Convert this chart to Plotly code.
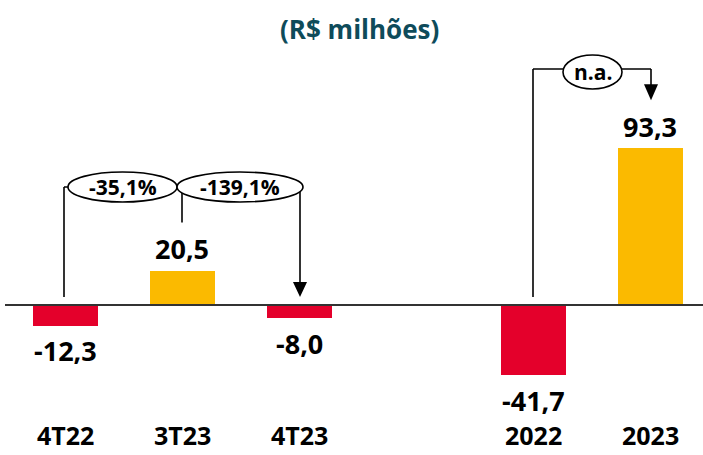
import plotly.graph_objects as go

# ---- data ----
categories = ["4T22", "3T23", "4T23", "2022", "2023"]
slots = [0, 1, 2, 4, 5]          # slot 3 is an empty gap
values = [-12.3, 20.5, -8.0, -41.7, 93.3]
value_labels = ["-12,3", "20,5", "-8,0", "-41,7", "93,3"]
change_labels = ["-35,1%", "-139,1%", "n.a."]
title_text = "(R$ milhões)"

RED = "#E4002B"
YELLOW = "#FBBA00"
colors = [RED if v < 0 else YELLOW for v in values]

# ---- layout geometry ----
W, H = 703, 455
PX_PER_UNIT = 1.68
ZERO_PX = 305
SLOT_PX = 117
FIRST_PX = 65
FONT = "Open Sans, Lato, sans-serif"


def dx(px):
    return px / SLOT_PX


def dy(px):
    return px / PX_PER_UNIT


xr = [-dx(FIRST_PX), dx(W - FIRST_PX)]
yr = [-dy(H - ZERO_PX), dy(ZERO_PX)]

fig = go.Figure()
fig.add_trace(go.Bar(
    x=slots, y=values, width=dx(65),
    marker=dict(color=colors, line=dict(width=0)),
    hoverinfo="skip",
))

shapes = []
LINE = dict(color="black", width=1.6)

# zero line
shapes.append(dict(type="line", xref="x", yref="y", x0=xr[0] + dx(5), x1=xr[1],
                   y0=0, y1=0, line=dict(color="#333333", width=2)))

# bracket 1 (4T22 -> 3T23 -> 4T23)
b1 = dy(ZERO_PX - 187)
foot = dy(8)
shapes += [
    dict(type="line", xref="x", yref="y", x0=slots[0] - dx(1), x1=slots[0] - dx(1), y0=foot, y1=b1, line=LINE),
    dict(type="line", xref="x", yref="y", x0=slots[0] - dx(1), x1=slots[2] + dx(1), y0=b1, y1=b1, line=LINE),
    dict(type="line", xref="x", yref="y", x0=slots[1], x1=slots[1], y0=values[1] + dy(48), y1=b1, line=LINE),
    dict(type="line", xref="x", yref="y", x0=slots[2] + dx(1), x1=slots[2] + dx(1), y0=b1, y1=foot + dy(10), line=LINE),
]
ax = slots[2] + dx(1)
shapes.append(dict(type="path", xref="x", yref="y",
                   path=f"M {ax - dx(7)},{foot + dy(15)} L {ax + dx(7)},{foot + dy(15)} L {ax},{foot} Z",
                   fillcolor="black", line=dict(width=0)))

# bracket 2 (2022 -> 2023)
b2 = dy(ZERO_PX - 69)
tip2 = values[4] + dy(48)
shapes += [
    dict(type="line", xref="x", yref="y", x0=slots[3], x1=slots[3], y0=foot, y1=b2, line=LINE),
    dict(type="line", xref="x", yref="y", x0=slots[3], x1=slots[4] + dx(1), y0=b2, y1=b2, line=LINE),
    dict(type="line", xref="x", yref="y", x0=slots[4] + dx(1), x1=slots[4] + dx(1), y0=b2, y1=tip2 + dy(10), line=LINE),
]
ax2 = slots[4] + dx(1)
shapes.append(dict(type="path", xref="x", yref="y",
                   path=f"M {ax2 - dx(7)},{tip2 + dy(16)} L {ax2 + dx(7)},{tip2 + dy(16)} L {ax2},{tip2} Z",
                   fillcolor="black", line=dict(width=0)))

# ellipses
ellipses = [
    (slots[0] + dx(3), slots[1] - dx(5), b1, dy(15)),
    (slots[1] - dx(5), slots[2] + dx(4), b1, dy(15)),
    (slots[3] + dx(30), slots[3] + dx(89), b2 - dy(3), dy(17)),
]
annotations = []
for (x0, x1, yc, hh), lab in zip(ellipses, change_labels):
    shapes.append(dict(type="circle", xref="x", yref="y", x0=x0, x1=x1, y0=yc - hh, y1=yc + hh,
                       fillcolor="white", line=dict(color="black", width=1.6)))
    annotations.append(dict(x=(x0 + x1) / 2, y=yc, xref="x", yref="y", text=f"<b>{lab}</b>",
                            showarrow=False, xanchor="center", yanchor="middle",
                            font=dict(size=21, color="black", family=FONT)))

# value labels
for s, v, lab in zip(slots, values, value_labels):
    annotations.append(dict(x=s, y=v, xref="x", yref="y", text=f"<b>{lab}</b>", showarrow=False,
                            xanchor="center", yanchor="middle",
                            yshift=22 if v >= 0 else -25,
                            font=dict(size=27, color="black", family=FONT)))

# category labels
for s, c in zip(slots, categories):
    annotations.append(dict(x=s, y=(H - 435) / H, xref="x", yref="paper", text=f"<b>{c}</b>",
                            showarrow=False, xanchor="center", yanchor="middle", borderpad=0,
                            font=dict(size=25, color="black", family=FONT)))

# title
annotations.append(dict(x=359 / W, y=(H - 29) / H, xref="paper", yref="paper", text=f"<b>{title_text}</b>",
                        showarrow=False, xanchor="center", yanchor="middle",
                        font=dict(size=26, color="#0E4B5A", family=FONT)))

fig.update_layout(
    width=W, height=H,
    margin=dict(l=0, r=0, t=0, b=0),
    paper_bgcolor="white", plot_bgcolor="white",
    showlegend=False,
    xaxis=dict(range=xr, visible=False, fixedrange=True),
    yaxis=dict(range=yr, visible=False, fixedrange=True),
    shapes=shapes, annotations=annotations,
    bargap=0,
)

fig.write_html("out.html", config={"displayModeBar": False},
               post_script="document.body.style.margin='0px';document.body.style.overflow='hidden';")
